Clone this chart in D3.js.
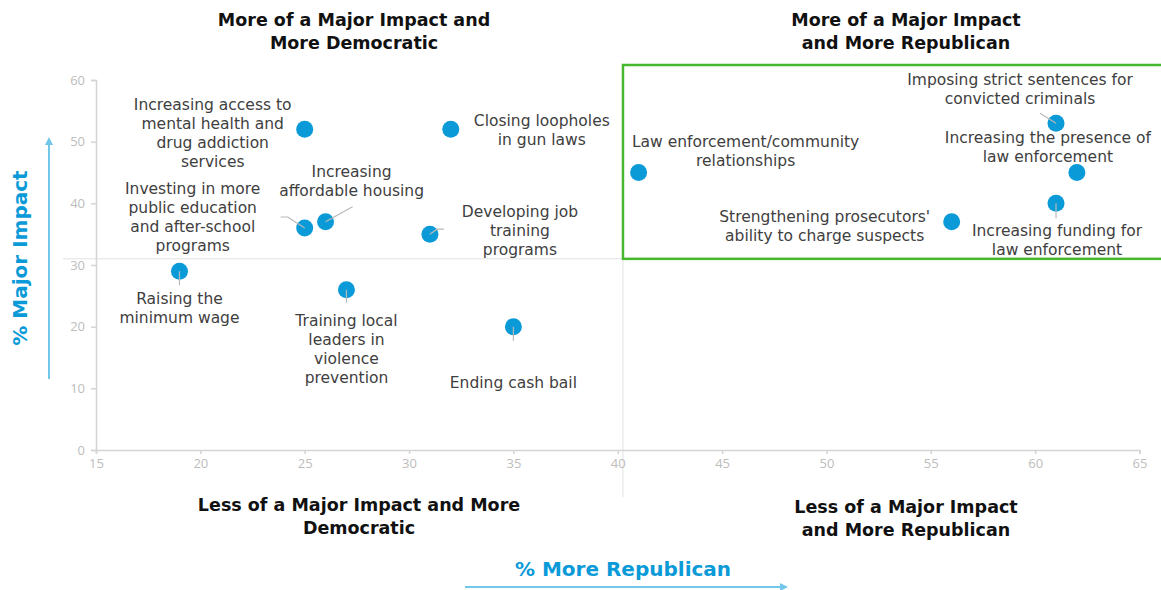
<!DOCTYPE html>
<html lang="en">
<head>
  <meta charset="UTF-8">
  <title>Major Impact vs More Republican</title>
  <style>
    body { margin: 0; background: #fff; }
    svg { display: block; font-family: "DejaVu Sans", sans-serif; }
  </style>
</head>
<body>
  <div id="chart"></div>

  <script src="https://cdn.jsdelivr.net/npm/d3@7"></script>
  <script>

    // policies, % more republican (x), % major impact (y)
    const policies = [
      "Increasing access to mental health and drug addiction services",
      "Closing loopholes in gun laws",
      "Law enforcement/community relationships",
      "Imposing strict sentences for convicted criminals",
      "Increasing the presence of law enforcement",
      "Increasing funding for law enforcement",
      "Strengthening prosecutors' ability to charge suspects",
      "Investing in more public education and after-school programs",
      "Increasing affordable housing",
      "Developing job training programs",
      "Raising the minimum wage",
      "Training local leaders in violence prevention",
      "Ending cash bail"
    ];
    const moreRepublican = [25, 32, 41, 61, 62, 61, 56, 25, 26, 31, 19, 27, 35];
    const majorImpact    = [52, 52, 45, 53, 45, 40, 37, 36, 37, 35, 29, 26, 20];

    // wrapped label lines, as in the picture
    const labelLines = [
      ["Increasing access to", "mental health and", "drug addiction", "services"],
      ["Closing loopholes", "in gun laws"],
      ["Law enforcement/community", "relationships"],
      ["Imposing strict sentences for", "convicted criminals"],
      ["Increasing the presence of", "law enforcement"],
      ["Increasing funding for", "law enforcement"],
      ["Strengthening prosecutors'", "ability to charge suspects"],
      ["Investing in more", "public education", "and after-school", "programs"],
      ["Increasing", "affordable housing"],
      ["Developing job", "training", "programs"],
      ["Raising the", "minimum wage"],
      ["Training local", "leaders in", "violence", "prevention"],
      ["Ending cash bail"]
    ];

    const xTicks = [15, 20, 25, 30, 35, 40, 45, 50, 55, 60, 65];
    const yTicks = [0, 10, 20, 30, 40, 50, 60];
    const xSplit = 40.25, ySplit = 31;

    const quadrantTitles = [
      ["More of a Major Impact and", "More Democratic"],
      ["More of a Major Impact", "and More Republican"],
      ["Less of a Major Impact and More", "Democratic"],
      ["Less of a Major Impact", "and More Republican"]
    ];

    // layout (pixel offsets from each dot to its label / leader line)
    const labelOffset = [
      [-92, -25], [91, -9], [107, -31], [-36, -44], [-29, -35], [1, 27], [-127, -5],
      [-112, -39], [26, -50], [90, -23], [0, 27], [0, 31], [0, 56]
    ];
    const leaders = [
      null, null, null, [[-16, -10], [0, 0]], null, [[0, 0], [0, 15]], null,
      [[-24, -11], [-17, -11], [0, 0]], [[0, 0], [27, -15]], [[0, 0], [7, -5], [14, -5]],
      [[0, 0], [0, 14]], [[0, 0], [0, 13]], [[0, 0], [0, 14]]
    ];

    const width = 1161, height = 590;
    const lineH = 19;
    const blue = "#0a9ad8", arrowBlue = "#72c6ea", green = "#46b82e";

    const svg = d3.select("#chart")
      .append("svg")
      .attr("width", width)
      .attr("height", height);

    const x = d3.scaleLinear([15, 65], [96, 1139.5]);
    const y = d3.scaleLinear([0, 60], [450, 80]);

    const data = policies.map((p, i) => ({
      name: p, x: moreRepublican[i], y: majorImpact[i],
      lines: labelLines[i], off: labelOffset[i], leader: leaders[i]
    }));

    // quadrant divider lines
    svg.append("line")
      .attr("x1", 63).attr("x2", width)
      .attr("y1", y(ySplit)).attr("y2", y(ySplit))
      .attr("stroke", "#e2e2e2");
    svg.append("line")
      .attr("x1", x(xSplit)).attr("x2", x(xSplit))
      .attr("y1", 65).attr("y2", 497)
      .attr("stroke", "#e2e2e2");

    // axes
    const gx = svg.append("g")
      .attr("transform", `translate(0,${y(0)})`)
      .call(d3.axisBottom(x).tickValues(xTicks).tickSize(4).tickPadding(5));
    const gy = svg.append("g")
      .attr("transform", `translate(${x(15)},0)`)
      .call(d3.axisLeft(y).tickValues(yTicks).tickSize(5).tickPadding(6));
    [gx, gy].forEach(g => {
      g.select(".domain").attr("stroke", "#d4d4d4").attr("stroke-width", 1.5);
      g.selectAll(".tick line").attr("stroke", "#d4d4d4").attr("stroke-width", 1.5);
      g.selectAll(".tick text").attr("fill", "#bdbdbd")
        .attr("font-size", 13).attr("font-family", "Open Sans, sans-serif");
    });

    // highlighted quadrant
    svg.append("rect")
      .attr("x", x(xSplit)).attr("y", 65)
      .attr("width", width - x(xSplit) + 5)
      .attr("height", y(ySplit) - 65)
      .attr("fill", "none")
      .attr("stroke", green)
      .attr("stroke-width", 2.5);

    // dots
    svg.append("g")
      .selectAll("circle")
      .data(data)
      .join("circle")
      .attr("cx", d => x(d.x))
      .attr("cy", d => y(d.y))
      .attr("r", 8.5)
      .attr("fill", blue);

    // leader lines
    svg.append("g")
      .selectAll("path")
      .data(data.filter(d => d.leader))
      .join("path")
      .attr("d", d => d3.line()(d.leader.map(p => [x(d.x) + p[0], y(d.y) + p[1]])))
      .attr("fill", "none")
      .attr("stroke", "#b8b8b8")
      .attr("stroke-width", 1.2);

    // labels
    svg.append("g")
      .selectAll("text")
      .data(data)
      .join("text")
      .attr("text-anchor", "middle")
      .attr("font-size", 15.5)
      .attr("fill", "#404040")
      .attr("transform", d => `translate(${x(d.x) + d.off[0]},${y(d.y) + d.off[1]})`)
      .selectAll("tspan")
      .data(d => d.lines)
      .join("tspan")
      .attr("x", 0)
      .attr("y", (d, i) => i * lineH)
      .attr("dy", "0.35em")
      .text(d => d);

    // quadrant titles
    const titlePos = [[354, 20], [906, 20], [359, 505], [906, 507]];
    svg.append("g")
      .selectAll("text")
      .data(quadrantTitles)
      .join("text")
      .attr("text-anchor", "middle")
      .attr("font-size", 17.5)
      .attr("font-weight", "bold")
      .attr("fill", "#111")
      .attr("transform", (d, i) => `translate(${titlePos[i][0]},${titlePos[i][1]})`)
      .selectAll("tspan")
      .data(d => d)
      .join("tspan")
      .attr("x", 0)
      .attr("y", (d, i) => i * 22.5)
      .attr("dy", "0.35em")
      .text(d => d);

    // axis titles with arrows
    svg.append("defs").append("marker")
      .attr("id", "arrow")
      .attr("viewBox", "0 0 10 10")
      .attr("refX", 5).attr("refY", 5)
      .attr("markerWidth", 4).attr("markerHeight", 4)
      .attr("orient", "auto")
      .append("path")
      .attr("d", "M0,0 L10,5 L0,10 z")
      .attr("fill", arrowBlue);

    svg.append("line")
      .attr("x1", 465).attr("x2", 784)
      .attr("y1", 587).attr("y2", 587)
      .attr("stroke", arrowBlue).attr("stroke-width", 2)
      .attr("marker-end", "url(#arrow)");
    svg.append("text")
      .attr("x", 623).attr("y", 569).attr("dy", "0.35em")
      .attr("text-anchor", "middle")
      .attr("font-size", 20).attr("font-weight", "bold")
      .attr("fill", blue)
      .text("% More Republican");

    svg.append("line")
      .attr("x1", 49).attr("x2", 49)
      .attr("y1", 379).attr("y2", 141)
      .attr("stroke", arrowBlue).attr("stroke-width", 2)
      .attr("marker-end", "url(#arrow)");
    svg.append("text")
      .attr("transform", "translate(20,258) rotate(-90)")
      .attr("dy", "0.35em")
      .attr("text-anchor", "middle")
      .attr("font-size", 20).attr("font-weight", "bold")
      .attr("fill", blue)
      .text("% Major Impact");

  </script>
</body>
</html>
